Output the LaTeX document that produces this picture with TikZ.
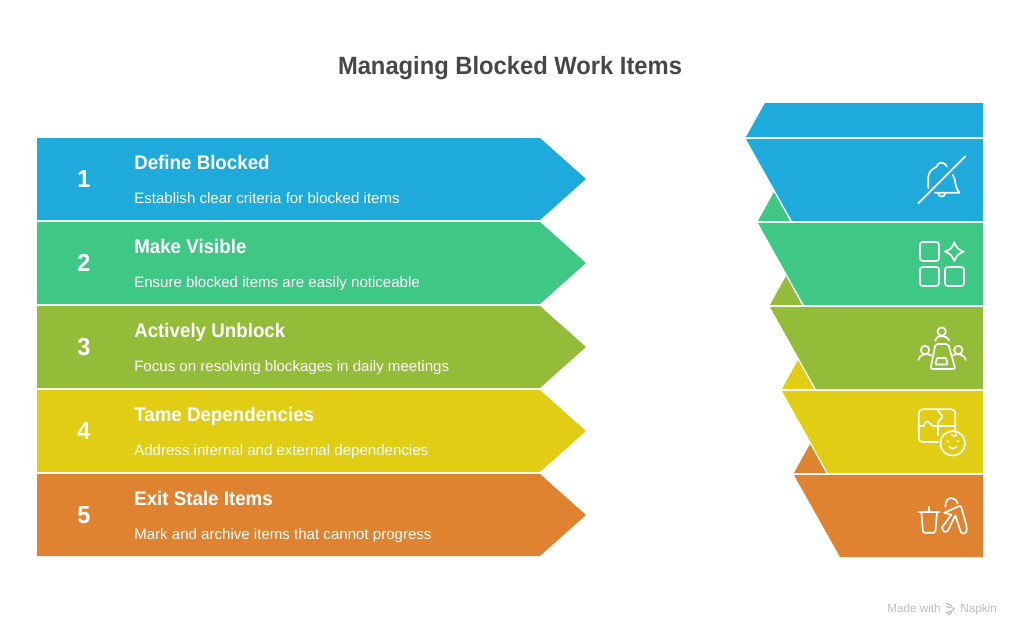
\documentclass[tikz,border=0pt]{standalone}
\usepackage{fontspec}
\setmainfont{Liberation Sans}
\newfontfamily\heavyfont[FakeStretch=0.95]{Liberation Sans}
\definecolor{cblue}{HTML}{1EAADB}
\definecolor{cgreen}{HTML}{3EC785}
\definecolor{colive}{HTML}{93BD39}
\definecolor{cyellow}{HTML}{E0CD14}
\definecolor{corange}{HTML}{DF8330}
\definecolor{ctitle}{HTML}{474747}
\definecolor{cfoot}{HTML}{BDBDBD}
\tikzset{
  numtext/.style={text=white,inner sep=0pt,font=\heavyfont\fontsize{18.5}{18}\selectfont\bfseries},
  headtext/.style={text=white,inner sep=0pt,anchor=base west,font=\heavyfont\fontsize{14.8}{16}\selectfont\bfseries},
  subtext/.style={text=white,inner sep=0pt,anchor=base west,font=\fontsize{11.3}{13}\selectfont},
  icon/.style={draw=white,line width=1.25pt,line cap=round,line join=round},
  foot/.style={text=cfoot,inner sep=0pt,anchor=base west,font=\fontsize{8.8}{10}\selectfont}
}
\begin{document}
\begin{tikzpicture}[x=0.75pt,y=-0.75pt]
\useasboundingbox (0,0) rectangle (1020,636);
\node[inner sep=0pt,anchor=base,text=ctitle,font=\heavyfont\fontsize{18.75}{20}\selectfont\bfseries] (title) at (510,74) {Managing Blocked Work Items};
% left arrows
\foreach \c/\t in {cblue/138,cgreen/222,colive/306,cyellow/390,corange/474}{
  \fill[\c] (37,\t) -- (540,\t) -- (586,\t+41) -- (540,\t+82) -- (37,\t+82) -- cycle;
}
% right: top piece
\fill[cblue] (765,103) -- (983,103) -- (983,137) -- (746,137) -- cycle;
% right: triangles
\fill[cgreen] (774,192) -- (758,221) -- (790,221) -- cycle;
\fill[colive] (786,276) -- (770,305) -- (802,305) -- cycle;
\fill[cyellow] (798,360) -- (782,389) -- (814,389) -- cycle;
\fill[corange] (810,444) -- (794,473) -- (826,473) -- cycle;
% right: bands
\fill[cblue] (746,139) -- (983,139) -- (983,221) -- (792,221) -- cycle;
\fill[cgreen] (758,223) -- (983,223) -- (983,305) -- (804,305) -- cycle;
\fill[colive] (770,307) -- (983,307) -- (983,389) -- (816,389) -- cycle;
\fill[cyellow] (782,391) -- (983,391) -- (983,473) -- (828,473) -- cycle;
\fill[corange] (794,475) -- (983,475) -- (983,557) -- (840,557) -- cycle;
% text
\node[numtext] (n1) at (84,179) {1};
\node[numtext] (n2) at (84,263) {2};
\node[numtext] (n3) at (84,347) {3};
\node[numtext] (n4) at (84,431) {4};
\node[numtext] (n5) at (84,515) {5};
\node[headtext] (h1) at (134,169) {Define Blocked};
\node[headtext] (h2) at (134,253) {Make Visible};
\node[headtext] (h3) at (134,337) {Actively Unblock};
\node[headtext] (h4) at (134,421) {Tame Dependencies};
\node[headtext] (h5) at (134,505) {Exit Stale Items};
\node[subtext] (s1) at (134,203) {Establish clear criteria for blocked items};
\node[subtext] (s2) at (134,287) {Ensure blocked items are easily noticeable};
\node[subtext] (s3) at (134,371) {Focus on resolving blockages in daily meetings};
\node[subtext] (s4) at (134,455) {Address internal and external dependencies};
\node[subtext] (s5) at (134,539) {Mark and archive items that cannot progress};
% bell
\draw[icon] (918.3,203.3) -- (965.3,156.3);
\draw[icon] (928.3,188) -- (928.3,177) .. controls (928.3,172) and (932,169) .. (936.5,166.7) .. controls (937.3,164) and (939,162.7) .. (941.7,162.7) .. controls (944,162.7) and (946,164) .. (946.8,166.7);
\draw[icon] (953,175) .. controls (954.5,178) and (955,181) .. (955.5,184) .. controls (956,187.5) and (957.5,190.5) .. (959.5,192.7) -- (935,192.7);
\draw[icon] (938.3,193.5) .. controls (939,197.5) and (944.5,197.5) .. (945.3,193.5);
% grid + star
\draw[icon,rounded corners=2pt] (920,242) rectangle (939,261);
\draw[icon,rounded corners=2pt] (920,267) rectangle (939,286);
\draw[icon,rounded corners=2pt] (945,267) rectangle (964,286);
\draw[icon] (954.3,242.2) .. controls (956,247.5) and (958.5,250) .. (963.8,251.7) .. controls (958.5,253.4) and (956,256) .. (954.3,261.2) .. controls (952.6,256) and (950,253.4) .. (945,251.7) .. controls (950,250) and (952.6,247.5) .. (954.3,242.2) -- cycle;
% meeting
\draw[icon] (941.7,331.5) circle (4.2);
\draw[icon] (935,340.7) .. controls (936,334.5) and (947.5,334.5) .. (949.3,340.7);
\draw[icon] (925,350) circle (4.2);
\draw[icon] (918.3,360) .. controls (919,354.5) and (927,352.5) .. (931.5,355.5);
\draw[icon] (958.3,350) circle (4.2);
\draw[icon] (965.7,360) .. controls (965,354.5) and (957,352.5) .. (952.5,355.5);
\draw[icon,rounded corners=1.5pt] (935.5,344) -- (948.3,344) -- (955.3,369) -- (930.5,369) -- cycle;
\draw[icon,rounded corners=0.6pt] (937,358) -- (946,358) -- (947.5,364.5) -- (935.5,364.5) -- cycle;
% puzzle + face
\draw[icon,rounded corners=3pt] (938,442) -- (918.7,442) -- (918.7,409.3) -- (955.3,409.3) -- (955.3,432);
\draw[icon] (918.7,426) -- (923.7,426) .. controls (924.5,423) and (925.5,421.3) .. (927,421.3) .. controls (929.5,421.3) and (931,426) .. (933.7,426) -- (955.3,426);
\draw[icon] (938,409.3) .. controls (937.5,412) and (940,413) .. (941.5,414.5) .. controls (943.5,417) and (942,418.5) .. (940,419.5) .. controls (938,421) and (938,423) .. (938,426) -- (938,435.3);
\draw[icon] (952.7,443.3) circle (12.3);
\fill[white] (947.7,441.3) circle (1.3) (957.7,441.3) circle (1.3);
\draw[icon] (949.3,447) .. controls (951,449.3) and (954.5,449.3) .. (956.2,447);
\draw[icon] (952,434.5) .. controls (954,437) and (957,436.5) .. (956,434);
% cup + figure
\draw[icon] (918.7,512) -- (939.3,512);
\draw[icon] (928.7,507) -- (928.7,512);
\draw[icon,rounded corners=1pt] (921.3,512) -- (923,532.7) -- (935.3,532.7) -- (937,512);
\draw[icon] (945.3,507) .. controls (945.3,501) and (948,498) .. (951.3,498) .. controls (954.5,498) and (957,500.5) .. (957.7,503.7);
\draw[icon] (944.3,512.7) -- (959,506.3) .. controls (960,506) and (961,506) .. (961.3,507) -- (966.5,526) .. controls (967.5,531) and (965.5,533.7) .. (963.7,533.7) .. controls (961.5,533.7) and (960.7,532) .. (960.3,530.3) -- (955.3,515.3) -- (948,530.5) .. controls (946,533) and (942.5,532) .. (942,527.5) -- (951.3,514.7) -- cycle;
% footer
\node[foot] (made) at (887,612) {Made with};
\node[foot] (napkin) at (960,612) {Napkin};
\draw[cfoot,line width=0.9pt] (946,603) -- (952,606) (946,606.5) -- (955,608.5) (946,613) -- (954,610) (948,615) -- (952,612.5);
\end{tikzpicture}
\end{document}
